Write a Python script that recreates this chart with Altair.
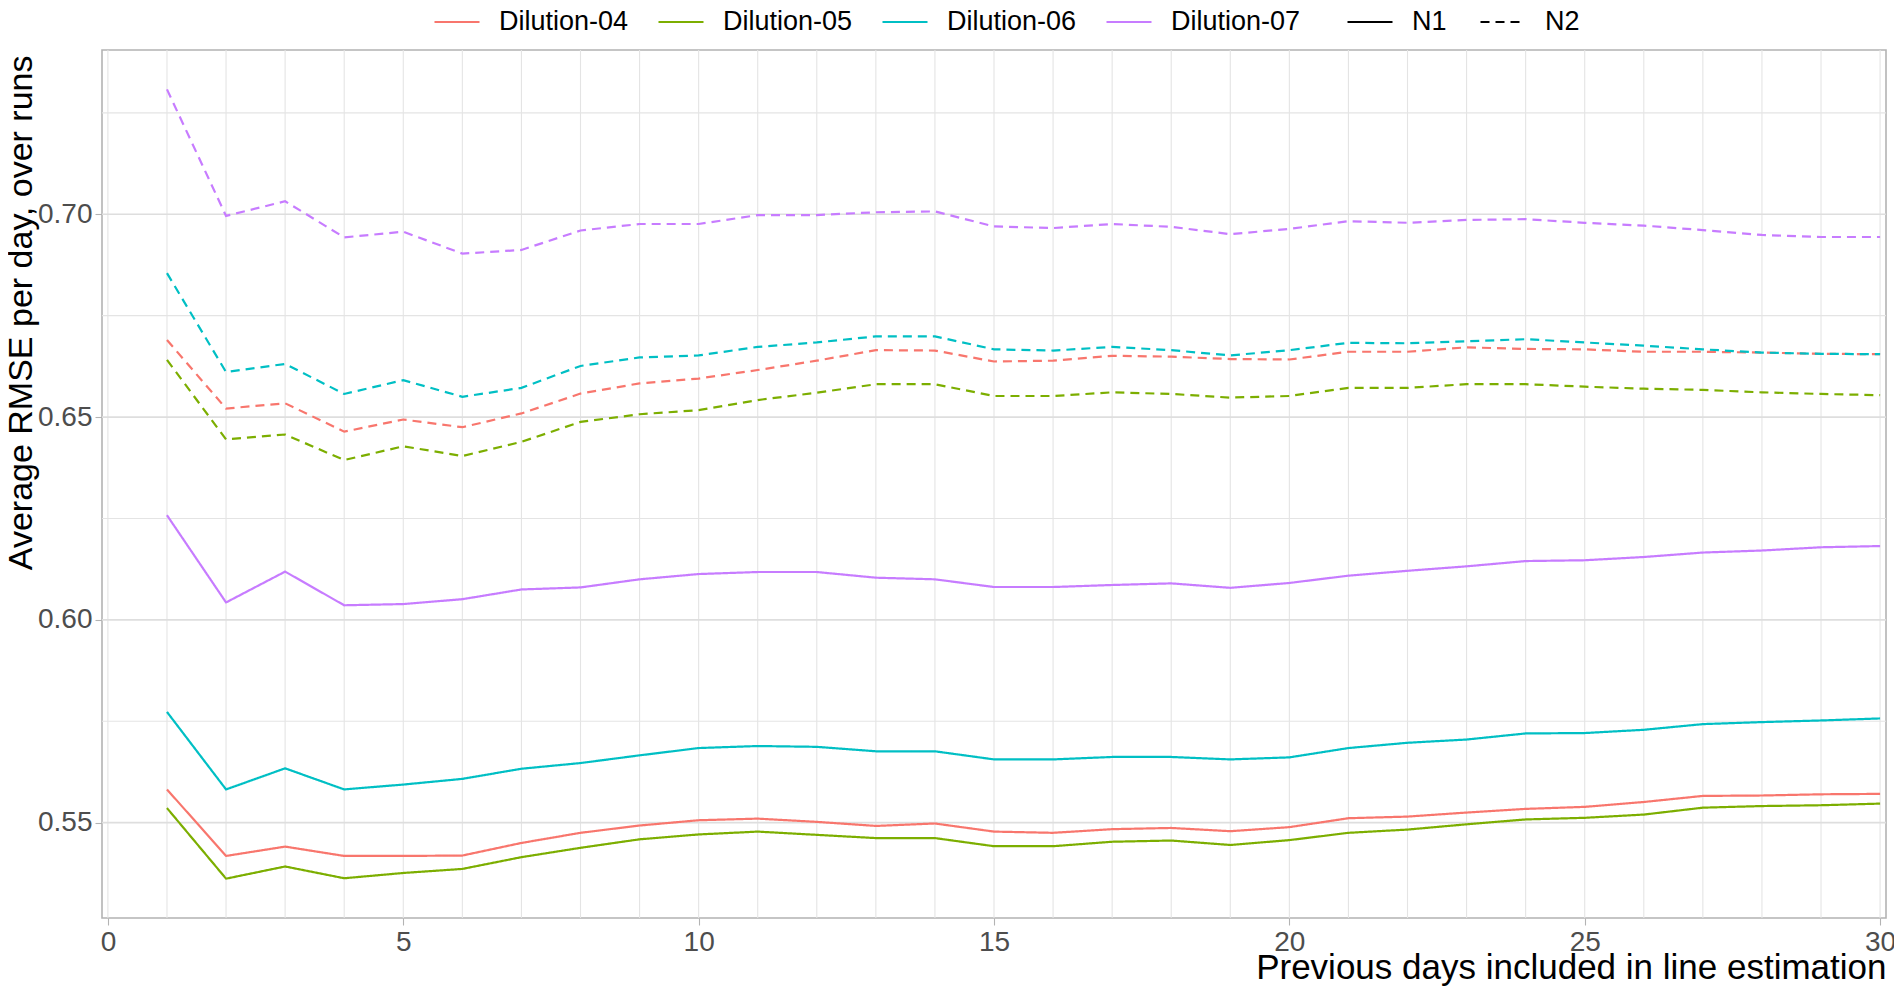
import altair as alt
import pandas as pd

days = list(range(1, 31))

dilutions = ["Dilution-04", "Dilution-05", "Dilution-06", "Dilution-07"]
dil_colors = ["#F8766D", "#7CAE00", "#00BFC4", "#C77CFF"]
targets = ["N1", "N2"]

d04_n1 = [0.5582, 0.5418, 0.5441, 0.5418, 0.5418, 0.5419, 0.5450, 0.5475, 0.5493, 0.5506,
          0.5510, 0.5502, 0.5492, 0.5498, 0.5478, 0.5475, 0.5484, 0.5487, 0.5479, 0.5489,
          0.5511, 0.5515, 0.5525, 0.5534, 0.5539, 0.5551, 0.5566, 0.5567, 0.5570, 0.5571]
d05_n1 = [0.5536, 0.5362, 0.5392, 0.5363, 0.5376, 0.5386, 0.5415, 0.5438, 0.5459, 0.5471,
          0.5478, 0.5470, 0.5462, 0.5462, 0.5442, 0.5442, 0.5453, 0.5456, 0.5445, 0.5457,
          0.5475, 0.5483, 0.5496, 0.5508, 0.5512, 0.5520, 0.5537, 0.5541, 0.5543, 0.5547]
d06_n1 = [0.5773, 0.5582, 0.5634, 0.5582, 0.5594, 0.5608, 0.5633, 0.5647, 0.5666, 0.5684,
          0.5689, 0.5687, 0.5676, 0.5676, 0.5656, 0.5656, 0.5662, 0.5662, 0.5656, 0.5661,
          0.5684, 0.5697, 0.5705, 0.5720, 0.5721, 0.5729, 0.5743, 0.5748, 0.5752, 0.5757]
d07_n1 = [0.6258, 0.6043, 0.6119, 0.6036, 0.6039, 0.6051, 0.6075, 0.6080, 0.6100, 0.6113,
          0.6118, 0.6118, 0.6104, 0.6100, 0.6081, 0.6081, 0.6086, 0.6090, 0.6079, 0.6091,
          0.6109, 0.6121, 0.6132, 0.6145, 0.6147, 0.6155, 0.6166, 0.6171, 0.6179, 0.6182]
d04_n2 = [0.6690, 0.6521, 0.6534, 0.6464, 0.6494, 0.6475, 0.6509, 0.6558, 0.6583, 0.6595,
          0.6616, 0.6639, 0.6665, 0.6664, 0.6637, 0.6639, 0.6651, 0.6649, 0.6643, 0.6642,
          0.6661, 0.6661, 0.6672, 0.6668, 0.6667, 0.6661, 0.6661, 0.6659, 0.6656, 0.6655]
d05_n2 = [0.6641, 0.6445, 0.6457, 0.6394, 0.6428, 0.6404, 0.6439, 0.6488, 0.6507, 0.6517,
          0.6542, 0.6560, 0.6581, 0.6581, 0.6552, 0.6552, 0.6561, 0.6557, 0.6548, 0.6552,
          0.6572, 0.6572, 0.6581, 0.6581, 0.6575, 0.6570, 0.6567, 0.6561, 0.6557, 0.6554]
d06_n2 = [0.6855, 0.6611, 0.6631, 0.6557, 0.6591, 0.6550, 0.6572, 0.6626, 0.6647, 0.6652,
          0.6673, 0.6684, 0.6699, 0.6699, 0.6667, 0.6664, 0.6673, 0.6665, 0.6652, 0.6665,
          0.6683, 0.6682, 0.6687, 0.6692, 0.6684, 0.6676, 0.6667, 0.6659, 0.6656, 0.6655]
d07_n2 = [0.7308, 0.6996, 0.7032, 0.6943, 0.6957, 0.6903, 0.6912, 0.6960, 0.6976, 0.6976,
          0.6998, 0.6998, 0.7005, 0.7007, 0.6970, 0.6966, 0.6976, 0.6969, 0.6951, 0.6964,
          0.6983, 0.6979, 0.6986, 0.6988, 0.6979, 0.6972, 0.6961, 0.6949, 0.6944, 0.6944]

x_grid = list(range(0, 31))
x_ticks = [0, 5, 10, 15, 20, 25, 30]
y_major = [0.55, 0.60, 0.65, 0.70]
y_minor = [0.575, 0.625, 0.675, 0.725]

series = [
    ("Dilution-04", "N1", d04_n1), ("Dilution-05", "N1", d05_n1),
    ("Dilution-06", "N1", d06_n1), ("Dilution-07", "N1", d07_n1),
    ("Dilution-04", "N2", d04_n2), ("Dilution-05", "N2", d05_n2),
    ("Dilution-06", "N2", d06_n2), ("Dilution-07", "N2", d07_n2),
]
rows = []
for dil, tgt, vals in series:
    for d, v in zip(days, vals):
        rows.append({"day": d, "rmse": v, "dilution": dil, "target": tgt})
df = pd.DataFrame(rows)

grid_x = pd.DataFrame({"day": x_grid})
grid_y_minor = pd.DataFrame({"rmse": y_minor})
grid_y_major = pd.DataFrame({"rmse": y_major})

FONT = "Liberation Sans"
xscale = alt.Scale(domain=[-0.1, 30.1], nice=False, zero=False)
yscale = alt.Scale(domain=[0.5265, 0.7405], nice=False, zero=False)

axis_style = dict(
    grid=False, domain=False, tickColor="#B3B3B3", tickWidth=1.1, tickSize=7,
    labelColor="#4D4D4D", labelFontSize=28, labelFont=FONT,
    titleFont=FONT, titleFontWeight="normal", titleColor="black",
)

x_axis = alt.Axis(values=x_ticks, title="Previous days included in line estimation",
                  titleAlign="right", titleAnchor="end", titleX=1784, titleY=60,
                  titleBaseline="alphabetic", titleFontSize=35, labelPadding=3, **axis_style)
y_axis = alt.Axis(values=y_major, format=".2f", title="Average RMSE per day, over runs",
                  titleAngle=270, titleAlign="right", titleAnchor="end",
                  titleX=-71, titleY=5, titleBaseline="alphabetic", titleFontSize=34,
                  labelPadding=3, **axis_style)

X = alt.X("day:Q", scale=xscale, axis=x_axis, title="Previous days included in line estimation")
Y = alt.Y("rmse:Q", scale=yscale, axis=y_axis, title="Average RMSE per day, over runs")

vgrid = alt.Chart(grid_x).mark_rule(color="#E4E4E4", strokeWidth=1.1).encode(x=X)
hminor = alt.Chart(grid_y_minor).mark_rule(color="#E4E4E4", strokeWidth=1.1).encode(y=Y)
hmajor = alt.Chart(grid_y_major).mark_rule(color="#DEDEDE", strokeWidth=1.7).encode(y=Y)

lines = alt.Chart(df).mark_line(strokeWidth=2.2).encode(
    x=X,
    y=Y,
    color=alt.Color("dilution:N", scale=alt.Scale(domain=dilutions, range=dil_colors),
                    legend=alt.Legend(title=None, orient="none", direction="horizontal",
                                      legendX=331, legendY=-52, symbolType="stroke",
                                      symbolSize=2025, symbolStrokeWidth=2.2,
                                      labelFontSize=27, labelFont=FONT, labelColor="black",
                                      labelOffset=18, columnPadding=25, padding=0,
                                      labelLimit=400)),
    strokeDash=alt.StrokeDash("target:N", scale=alt.Scale(domain=targets, range=[[1, 0], [9, 6]]),
                              legend=alt.Legend(title=None, orient="none", direction="horizontal",
                                                legendX=1244, legendY=-52, symbolType="stroke",
                                                symbolSize=2025, symbolStrokeWidth=2.2,
                                                symbolStrokeColor="black",
                                                labelFontSize=27, labelFont=FONT, labelColor="black",
                                                labelOffset=18, columnPadding=29, padding=0,
                                                labelLimit=400)),
)

chart = alt.layer(vgrid, hminor, hmajor, lines).properties(
    width=1784, height=868,
    background="white",
    autosize=alt.AutoSizeParams(type="none"),
    padding={"left": 94, "top": 42, "right": 8, "bottom": 68},
).configure_view(
    stroke="#B3B3B3", strokeWidth=1.6
)

chart.save("out.html", embed_options={"renderer": "svg", "actions": False})
